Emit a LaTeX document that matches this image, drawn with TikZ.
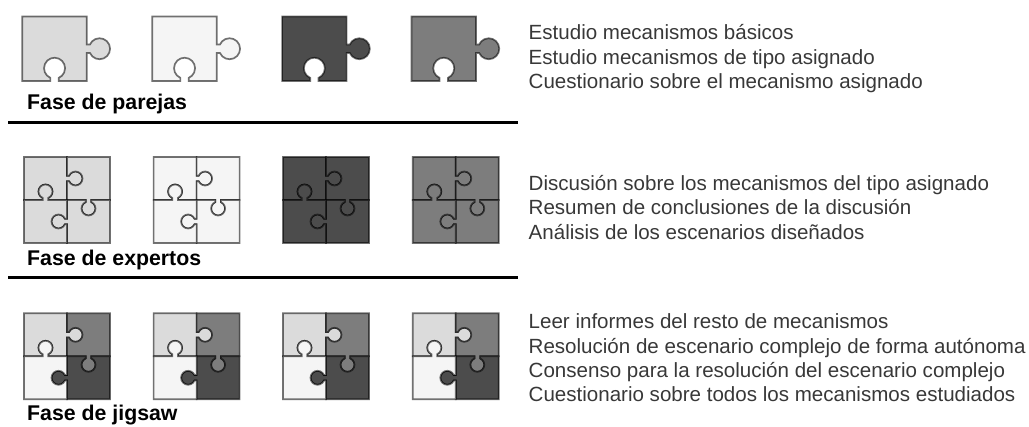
\documentclass[tikz,border=0pt]{standalone}
\usepackage{fontspec}
\setmainfont{Liberation Sans}
\usepackage{tikz}
\definecolor{pzlight}{gray}{0.86}
\definecolor{pzwhite}{gray}{0.96}
\definecolor{pzdark}{gray}{0.30}
\definecolor{pzmid}{gray}{0.49}
\tikzset{
  pzline/.style={draw=black, draw opacity=0.55, line width=1.7pt, line join=miter},
  phase/.style={anchor=base west, font=\fontsize{21.3}{24}\selectfont\bfseries, inner sep=0pt},
  task/.style={anchor=base west, font=\fontsize{20.55}{24}\selectfont, text=black!78, inner sep=0pt},
  phaserule/.style={line width=3.4pt}
}
% piece: fill, inner corner, rotation, scale
\def\pzpiece[#1](#2)(#3:#4){\draw[pzline, fill=#1, shift={(#2)}, rotate=#3, scale=#4]
  (-43, 0) -- (-24.3, 0) -- (-24.3, 2.09) arc (246.4:-66.4:7) -- (-18.7, 0) -- (0, 0)
  -- (0, 18.7) -- (2.09, 18.7) arc (203.6:516.4:7) -- (0, 24.3) -- (0, 43) -- (-43, 43) -- cycle;}
% four pieces round one centre
\def\pzsquare(#1)(#2,#3,#4,#5){
  \pzpiece[#2](#1)(0:1);
  \pzpiece[#3](#1)(-90:1);
  \pzpiece[#4](#1)(-180:1);
  \pzpiece[#5](#1)(-270:1);
}
\begin{document}
\begin{tikzpicture}[x=1pt, y=1pt]
  \useasboundingbox (0, 0) rectangle (1029, 427);

  %%%%% pairs %%%%%
  \pzpiece[pzlight](86.8, 346)(0:1.5);
  \pzpiece[pzwhite](216.8, 346)(0:1.5);
  \pzpiece[pzdark](346.6, 346)(0:1.5);
  \pzpiece[pzmid](476, 346)(0:1.5);
  \node[phase] (pairs) at (27, 317.5) {Fase de parejas};
  \coordinate (pairsl) at (8, 304.7);
  \coordinate (pairsr) at (518, 304.7);
  \draw[phaserule] (pairsl) -- (pairsr);

  %%%%% experts %%%%%
  \pzsquare(67, 227)(pzlight,pzlight,pzlight,pzlight)
  \pzsquare(196.6, 227)(pzwhite,pzwhite,pzwhite,pzwhite)
  \pzsquare(326, 227)(pzdark,pzdark,pzdark,pzdark)
  \pzsquare(455.8, 227)(pzmid,pzmid,pzmid,pzmid)
  \node[phase] (experts) at (27, 161) {Fase de expertos};
  \coordinate (expertsl) at (8, 149.7);
  \coordinate (expertsr) at (518, 149.7);
  \draw[phaserule] (expertsl) -- (expertsr);

  %%%%% jigsaw %%%%%
  \pzsquare(67, 70.7)(pzlight,pzmid,pzdark,pzwhite)
  \pzsquare(196.6, 70.7)(pzlight,pzmid,pzdark,pzwhite)
  \pzsquare(326, 70.7)(pzlight,pzmid,pzdark,pzwhite)
  \pzsquare(455.8, 70.7)(pzlight,pzmid,pzdark,pzwhite)
  \node[phase] (jigsaw) at (27, 6) {Fase de jigsaw};

  %%%%% tasks %%%%%
  \node[task] (a1) at (528.5, 387) {Estudio mecanismos básicos};
  \node[task] (a2) at (528.5, 362.5) {Estudio mecanismos de tipo asignado};
  \node[task] (a3) at (528.5, 338) {Cuestionario sobre el mecanismo asignado};

  \node[task] (b1) at (528.5, 236.3) {Discusión sobre los mecanismos del tipo asignado};
  \node[task] (b2) at (528.5, 212) {Resumen de conclusiones de la discusión};
  \node[task] (b3) at (528.5, 187.7) {Análisis de los escenarios diseñados};

  \node[task] (c1) at (528.5, 98.3) {Leer informes del resto de mecanismos};
  \node[task] (c2) at (528.5, 73.3) {Resolución de escenario complejo de forma autónoma};
  \node[task] (c3) at (528.5, 49) {Consenso para la resolución del escenario complejo};
  \node[task] (c4) at (528.5, 25) {Cuestionario sobre todos los mecanismos estudiados};
\end{tikzpicture}
\end{document}
